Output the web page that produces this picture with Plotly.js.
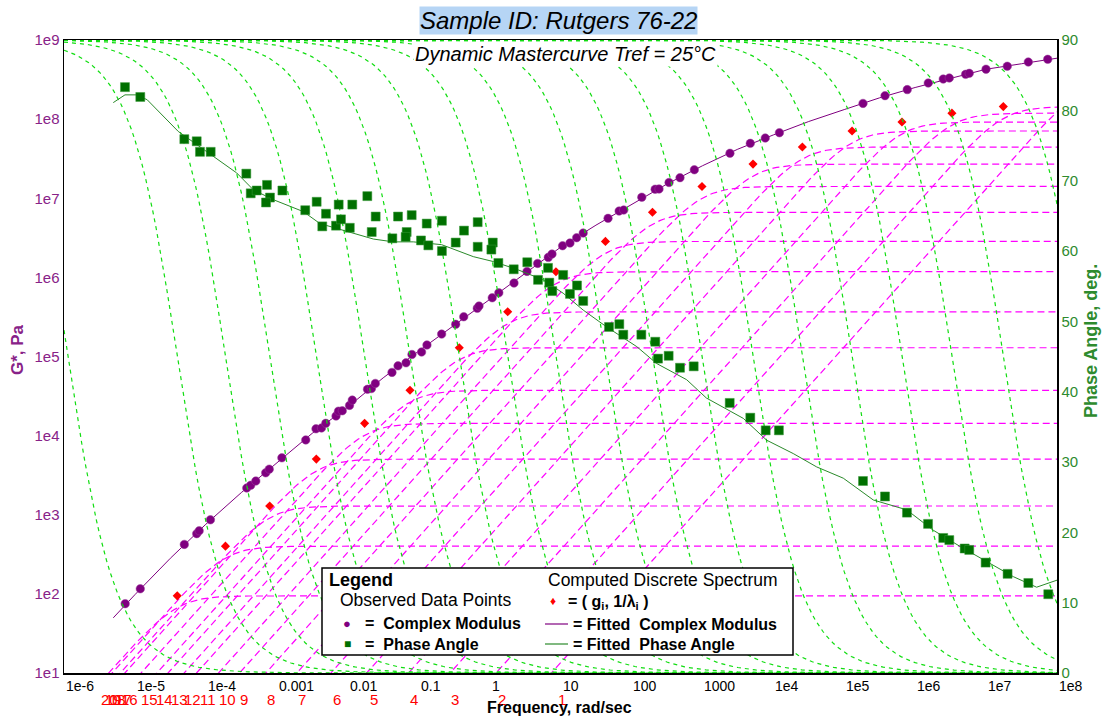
<!DOCTYPE html>
<html><head><meta charset="utf-8">
<script src="https://cdn.plot.ly/plotly-3.0.1.min.js"></script>
<style>html,body{margin:0;padding:0;background:#fff}#chart{width:1102px;height:716px}</style>
</head><body><div id="chart"></div><script>
// ---------- observed complex modulus |G*| (Pa) vs frequency (rad/s) ----------
const freqG = [7.29e-6,1.19e-5,4.97e-5,7.43e-5,8.05e-5,1.16e-4,3.77e-4,4.29e-4,5.06e-4,6.98e-4,7.83e-4,1.18e-3,2.56e-3,
  3.57e-3,4.27e-3,4.91e-3,6.84e-3,7.41e-3,8.39e-3,1.06e-2,1.16e-2,1.90e-2,2.16e-2,2.45e-2,4.21e-2,5.12e-2,6.64e-2,
  8.05e-2,0.110,0.131,0.211,0.333,0.432,0.671,0.710,1.09,1.35,2.21,3.37,4.76,6.73,7.59,10.7,13.6,16.9,20.9,46.8,67.1,77.8,
  140,216,245,339,484,771,2450,4740,7710,1.22e4,1.84e5,3.76e5,7.74e5,1.53e6,2.49e6,3.03e6,5.15e6,5.79e6,9.98e6,1.99e7,3.94e7,7.40e7];
const gStar = [75.2,116,422,577,627,863,2180,2360,2670,3390,3770,5240,8830,
  1.22e4,1.25e4,1.43e4,1.77e4,2.04e4,2.06e4,2.41e4,2.81e4,3.85e4,3.93e4,4.57e4,6.30e4,7.62e4,8.32e4,
  1.06e5,1.14e5,1.40e5,1.92e5,2.55e5,3.18e5,4.06e5,4.34e5,5.52e5,6.38e5,8.47e5,1.19e6,1.50e6,1.79e6,1.97e6,2.51e6,2.72e6,3.17e6,3.63e6,5.57e6,6.89e6,7.10e6,
  1.03e7,1.30e7,1.31e7,1.58e7,1.82e7,2.29e7,3.70e7,4.94e7,5.77e7,6.73e7,1.58e8,1.98e8,2.36e8,2.86e8,3.21e8,3.31e8,3.68e8,3.79e8,4.27e8,4.66e8,5.27e8,5.70e8];

// ---------- observed phase angle (deg) ----------
const freqP = [7.24e-6,1.19e-5,4.97e-5,7.43e-5,8.26e-5,1.17e-4,3.72e-4,4.29e-4,5.21e-4,7.28e-4,8.02e-4,7.05e-4,1.20e-3,
  2.52e-3,3.65e-3,4.94e-3,4.38e-3,6.84e-3,7.46e-3,8.04e-3,1.07e-2,1.16e-2,1.89e-2,2.48e-2,2.18e-2,
  4.26e-2,5.12e-2,6.78e-2,6.56e-2,7.98e-2,0.108,0.130,0.137,0.213,0.213,0.333,0.436,0.680,0.680,
  1.11,1.06,1.33,2.19,3.40,4.82,6.67,6.95,10.9,7.66,17.1,13.6,20.9,48.3,67.5,76.8,138,217,237,335,484,755,
  2430,4740,7820,1.20e4,1.84e5,3.76e5,7.67e5,1.52e6,2.49e6,3.03e6,4.99e6,5.79e6,9.86e6,2.01e7,3.94e7,7.53e7];
const phase = [83.3,81.9,75.9,75.6,74.1,74.1,71.0,68.2,68.6,69.4,67.6,66.9,68.6,
  65.8,67.0,65.3,63.5,63.6,66.6,64.5,63.3,66.6,67.8,64.9,62.7,
  61.8,64.9,62.7,62.0,65.1,61.5,63.9,60.8,64.3,60.0,61.2,62.9,64.1,60.6,
  61.2,60.2,58.3,57.4,58.4,55.9,57.6,55.5,56.6,54.3,55.1,53.9,52.9,49.2,49.6,48.1,48.1,47.1,44.7,45.1,43.4,43.6,
  38.4,36.3,34.5,34.5,27.3,25.1,22.8,21.2,19.2,18.9,17.7,17.5,15.7,14.1,12.8,11.2];

// ---------- fitted curves ----------
const fitGFreq = [4.95e-6,1e-5,3.16e-5,1e-4,3.16e-4,1e-3,3.16e-3,1e-2,3.16e-2,0.1,0.316,1,3.16,10,31.6,100,316,1000,3160,1e4,3.16e4,1e5,3.16e5,1e6,3.16e6,1e7,3.16e7,1e8];
const fitG = [49.8,97.7,282,759,1905,4570,1.07e4,2.29e4,5.37e4,1.17e5,2.45e5,5.25e5,1.12e6,2.40e6,4.57e6,8.32e6,1.51e7,2.57e7,4.17e7,6.31e7,9.33e7,1.32e8,1.86e8,2.51e8,3.31e8,4.27e8,5.01e8,5.89e8];
const fitPFreq = [4.95e-6,7.24e-6,1.06e-5,1.49e-5,4.08e-5,1.03e-4,2.72e-4,4.67e-4,8.93e-4,2.37e-3,
  4.06e-3,9.68e-3,2.30e-2,4.40e-2,8.41e-2,0.211,0.589,1.13,2.41,5.71,
  10.9,20.9,44.8,119,227,601,1140,3780,8070,1.91e4,
  4.09e4,9.70e4,2.57e5,7.60e5,1.80e6,4.29e6,1.14e7,2.42e7,5.16e7,1e8];
const fitP = [81.1,82.2,82.2,81.5,77.0,74.1,71.1,68.7,67.3,65.6,
  63.9,62.8,61.7,61.3,61.3,60.9,59.2,58.5,57.4,55.9,
  54.0,51.6,49.2,46.4,44.0,41.7,39.1,36.2,33.1,31.2,
  29.3,27.7,24.6,23.2,20.3,18.0,15.6,13.7,12.2,13.2];

// ---------- computed discrete spectrum (g_i, 1/lambda_i) ----------
const specInvLambda = [1.14e-6,3.95e-5,1.89e-4,7.94e-4,3.61e-3,1.73e-2,7.55e-2,0.374,1.80,8.63,43.0,198,988,5180,2.57e4,1.29e5,6.52e5,3.30e6,1.75e7,2.32e8];
const specG = [6.07,94.4,401,1290,5050,1.43e4,3.74e4,1.29e5,3.67e5,1.18e6,2.85e6,6.64e6,1.41e7,2.70e7,4.44e7,7.08e7,9.19e7,1.19e8,1.44e8,3.12e8];

// red index labels under the axis
const indexLabelFreq = [10.5,1.50,0.325,0.0859,0.0234,7.06e-3,2.26e-3,8.28e-4,3.45e-4,1.99e-4,1.07e-4,6.38e-5,4.31e-5,2.57e-5,1.58e-5,8.51e-6,7.01e-6,5.77e-6,4.91e-6,4.31e-6];
const indexLabels = ['1','2','3','4','5','6','7','8','9','10','11','12','13','14','15','16','17','18','19','20'];

// axis ticks
const xTickVals = [1e-6,1e-5,1e-4,1e-3,1e-2,0.1,1,10,100,1000,1e4,1e5,1e6,1e7,1e8];
const xTickText = ['1e-6','1e-5','1e-4','0.001','0.01','0.1','1','10','100','1000','1e4','1e5','1e6','1e7','1e8'];
const yTickVals = [10,100,1e3,1e4,1e5,1e6,1e7,1e8,1e9];
const yTickText = ['1e1','1e2','1e3','1e4','1e5','1e6','1e7','1e8','1e9'];

// ---------- layout helpers ----------
const L = 64, R = 1057, T = 40, B = 673;
const px = x => (x - L) / (R - L);
const py = y => (B - y) / (B - T);
const FONT = 'Liberation Sans, Arial, sans-serif';
const PURPLE = '#800080', DGREEN = '#007000', LGREEN = '#11dd11', MAG = '#ff00ff';

// frequency sampling for each Maxwell mode's curves
const wGrid = [];
for (let k = 0; k <= 280; k++) wGrid.push(Math.pow(10, -6 + k * 0.05));

const traces = [];
// magenta: |G*| of each discrete mode
specG.forEach((g, i) => {
  const tau = 1 / specInvLambda[i];
  traces.push({x: wGrid, y: wGrid.map(w => { const r = w * tau; return g * r / Math.sqrt(1 + r * r); }),
    mode: 'lines', line: {color: MAG, width: 1.2, dash: '7px,4px'}, hoverinfo: 'skip', showlegend: false});
});
// green: phase angle of each discrete mode
specG.forEach((g, i) => {
  const tau = 1 / specInvLambda[i];
  traces.push({x: wGrid, y: wGrid.map(w => Math.atan(1 / (w * tau)) * 180 / Math.PI), yaxis: 'y2',
    mode: 'lines', line: {color: LGREEN, width: 1.2, dash: '4px,4px'}, hoverinfo: 'skip', showlegend: false});
});
traces.push({x: fitGFreq, y: fitG, mode: 'lines', line: {color: PURPLE, width: 1}, showlegend: false});
traces.push({x: fitPFreq, y: fitP, yaxis: 'y2', mode: 'lines', line: {color: '#2a8a2a', width: 1}, showlegend: false});
traces.push({x: specInvLambda, y: specG, mode: 'markers', cliponaxis: false,
  marker: {symbol: 'diamond', size: 7, color: '#ff0000'}, showlegend: false});
traces.push({x: freqP, y: phase, yaxis: 'y2', mode: 'markers',
  marker: {symbol: 'square', size: 9, color: DGREEN, line: {color: '#3a9a3a', width: 0.5}}, showlegend: false});
traces.push({x: freqG, y: gStar, mode: 'markers',
  marker: {symbol: 'circle', size: 8.5, color: PURPLE, line: {color: '#9a409a', width: 0.5}}, showlegend: false});

const ann = [];
// x tick labels, left-aligned at each tick
xTickVals.forEach((v, i) => ann.push({xref: 'x', yref: 'paper', x: Math.log10(v), y: py(686), text: xTickText[i],
  showarrow: false, xanchor: 'left', yanchor: 'middle', font: {family: FONT, size: 14, color: '#000'}}));
// red index labels
indexLabelFreq.forEach((v, i) => ann.push({xref: 'x', yref: 'paper', x: Math.log10(v), y: py(699), text: indexLabels[i],
  showarrow: false, xanchor: 'center', yanchor: 'middle', font: {family: FONT, size: 15, color: '#ff0000'}}));
const A = (x, y, text, opts) => ann.push(Object.assign({xref: 'paper', yref: 'paper', x: px(x), y: py(y), text: text,
  showarrow: false, xanchor: 'left', yanchor: 'middle', font: {family: FONT, size: 15, color: '#000'}}, opts || {}));
// titles
A(558, 20, 'Sample ID: Rutgers 76-22', {xanchor: 'center', bgcolor: '#b6d5f5', borderpad: 0,
  font: {family: FONT, size: 24, color: '#000', style: 'italic'}});
A(565, 54, 'Dynamic Mastercurve Tref = 25°C', {xanchor: 'center', bgcolor: '#ffffff', borderpad: 1,
  font: {family: FONT, size: 20, color: '#000', style: 'italic'}});
A(559, 707, '<b>Frequency, rad/sec</b>', {xanchor: 'center', font: {family: FONT, size: 16, color: '#000'}});
A(17, 350, '<b>G*, Pa</b>', {xanchor: 'center', textangle: -90, font: {family: FONT, size: 17, color: '#882288'}});
A(1091, 341, '<b>Phase Angle, deg.</b>', {xanchor: 'center', textangle: -90, font: {family: FONT, size: 18, color: '#2e8b2e'}});
// legend
A(327, 580, '<b>Legend</b>', {font: {family: FONT, size: 18, color: '#000'}});
A(338, 600, 'Observed Data Points', {font: {family: FONT, size: 17.5, color: '#000'}});
A(341, 623, '<span style="color:#800080">●</span>', {font: {family: FONT, size: 13, color: PURPLE}});
A(363, 623, '<b>=  Complex Modulus</b>', {font: {family: FONT, size: 16, color: '#000'}});
A(342, 644, '<span style="color:#007000">■</span>', {font: {family: FONT, size: 12, color: DGREEN}});
A(363, 644, '<b>=  Phase Angle</b>', {font: {family: FONT, size: 16, color: '#000'}});
A(546, 580, 'Computed Discrete Spectrum', {font: {family: FONT, size: 17.5, color: '#000'}});
A(548, 601, '<span style="color:#ff0000">♦</span>', {font: {family: FONT, size: 12, color: '#ff0000'}});
A(566, 602, '<b>= ( g<sub>i</sub>, 1/λ<sub>i</sub> )</b>', {font: {family: FONT, size: 16, color: '#000'}});
A(571, 624, '<b>= Fitted  Complex Modulus</b>', {font: {family: FONT, size: 16, color: '#000'}});
A(571, 644, '<b>= Fitted  Phase Angle</b>', {font: {family: FONT, size: 16, color: '#000'}});

const shapes = [
  {type: 'rect', xref: 'paper', yref: 'paper', x0: px(322), x1: px(793), y0: py(655), y1: py(568),
   line: {color: '#000', width: 1.5}, fillcolor: '#ffffff', layer: 'above'},
  {type: 'line', xref: 'paper', yref: 'paper', x0: px(545), x1: px(568), y0: py(624), y1: py(624), line: {color: PURPLE, width: 1.2}, layer: 'above'},
  {type: 'line', xref: 'paper', yref: 'paper', x0: px(545), x1: px(568), y0: py(644), y1: py(644), line: {color: '#2a8a2a', width: 1.2}, layer: 'above'}
];

const layout = {
  width: 1102, height: 716, margin: {l: L, r: 1102 - R, t: T, b: 716 - B},
  paper_bgcolor: '#fff', plot_bgcolor: '#fff', showlegend: false,
  font: {family: FONT},
  xaxis: {type: 'log', range: [-6, 8], showticklabels: false, ticks: '', showgrid: false, zeroline: false,
    showline: true, linecolor: '#000', linewidth: 1.5, mirror: true},
  yaxis: {type: 'log', range: [1, 9], tickvals: yTickVals, ticktext: yTickText, ticks: '', showgrid: false, zeroline: false,
    showline: true, linecolor: '#000', linewidth: 1.5, tickfont: {family: FONT, size: 15, color: '#882288'}},
  yaxis2: {overlaying: 'y', side: 'right', range: [0, 90], tickvals: [0,10,20,30,40,50,60,70,80,90], ticks: '',
    showgrid: false, zeroline: false, showline: true, linecolor: '#000', linewidth: 1.5,
    tickfont: {family: FONT, size: 15, color: '#2e8b2e'}},
  annotations: ann, shapes: shapes
};
Plotly.newPlot('chart', traces, layout, {displayModeBar: false, staticPlot: true});
</script></body></html>
